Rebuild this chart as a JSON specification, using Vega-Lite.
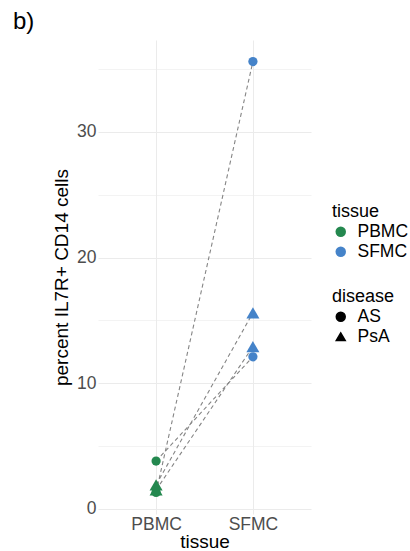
{
  "$schema": "https://vega.github.io/schema/vega-lite/v6.json",
  "width": 213,
  "height": 474,
  "autosize": {"type": "none"},
  "padding": {"left": 98, "top": 40, "right": 99, "bottom": 37},
  "background": "white",
  "title": {
    "text": "b)",
    "anchor": "start",
    "frame": "group",
    "dx": -85,
    "offset": 6,
    "fontSize": 24,
    "fontWeight": "normal",
    "font": "Liberation Sans",
    "color": "black"
  },
  "config": {
    "view": {"stroke": null},
    "font": "Liberation Sans",
    "axis": {
      "domain": false,
      "ticks": false,
      "gridColor": "#ebebeb",
      "labelColor": "#4d4d4d",
      "labelFontSize": 17.5,
      "titleFontSize": 19,
      "titleFontWeight": "normal",
      "titleColor": "black"
    },
    "legend": {
      "titleFontSize": 18,
      "titleFontWeight": "normal",
      "titleColor": "black",
      "labelFontSize": 17.5,
      "labelColor": "black",
      "labelLimit": 200,
      "padding": 0,
      "rowPadding": 1,
      "titlePadding": 2
    }
  },
  "datasets": {
    "cells": [
      {"donor": "AS1", "disease": "AS", "tissue": "PBMC", "pct": 1.3},
      {"donor": "AS1", "disease": "AS", "tissue": "SFMC", "pct": 35.6},
      {"donor": "AS2", "disease": "AS", "tissue": "PBMC", "pct": 3.8},
      {"donor": "AS2", "disease": "AS", "tissue": "SFMC", "pct": 12.1},
      {"donor": "PsA1", "disease": "PsA", "tissue": "PBMC", "pct": 1.9},
      {"donor": "PsA1", "disease": "PsA", "tissue": "SFMC", "pct": 15.6},
      {"donor": "PsA2", "disease": "PsA", "tissue": "PBMC", "pct": 1.5},
      {"donor": "PsA2", "disease": "PsA", "tissue": "SFMC", "pct": 12.9}
    ]
  },
  "data": {"name": "cells"},
  "encoding": {
    "x": {
      "field": "tissue",
      "type": "nominal",
      "scale": {"type": "point", "padding": 0.6, "domain": ["PBMC", "SFMC"]},
      "axis": {
        "title": "tissue",
        "labelAngle": 0,
        "labelPadding": 1,
        "titlePadding": 0,
        "grid": true
      }
    },
    "y": {
      "field": "pct",
      "type": "quantitative",
      "scale": {"domain": [-0.415, 37.315], "nice": false, "zero": false},
      "axis": {
        "title": "percent IL7R+ CD14 cells",
        "values": [0, 5, 10, 15, 20, 25, 30, 35],
        "labelExpr": "datum.value % 10 === 0 ? datum.label : ''",
        "gridWidth": {"condition": {"test": "datum.value % 10 === 0", "value": 1}, "value": 0.6},
        "labelPadding": 2,
        "titlePadding": 5
      }
    },
    "color": {
      "field": "tissue",
      "type": "nominal",
      "scale": {"domain": ["PBMC", "SFMC"], "range": ["#24884f", "#4583c9"]},
      "legend": {
        "orient": "none",
        "legendX": 234,
        "legendY": 163,
        "symbolType": "circle",
        "symbolSize": 110,
        "labelOffset": 8,
        "title": "tissue"
      }
    },
    "shape": {
      "field": "disease",
      "type": "nominal",
      "scale": {"domain": ["AS", "PsA"], "range": ["circle", "triangle-up"]},
      "legend": {
        "orient": "none",
        "legendX": 234,
        "legendY": 248,
        "symbolSize": 80,
        "labelOffset": 8,
        "symbolFillColor": "black",
        "symbolStrokeColor": "black",
        "title": "disease"
      }
    }
  },
  "layer": [
    {
      "mark": {"type": "line", "color": "#858585", "strokeWidth": 1.1, "strokeDash": [4, 3]},
      "encoding": {"detail": {"field": "donor"}, "color": null, "shape": null}
    },
    {
      "transform": [{"filter": "datum.disease === 'AS'"}],
      "mark": {"type": "point", "filled": true, "opacity": 1, "size": 85}
    },
    {
      "transform": [{"filter": "datum.disease === 'PsA'"}],
      "mark": {"type": "point", "filled": true, "opacity": 1, "size": 170}
    }
  ]
}
